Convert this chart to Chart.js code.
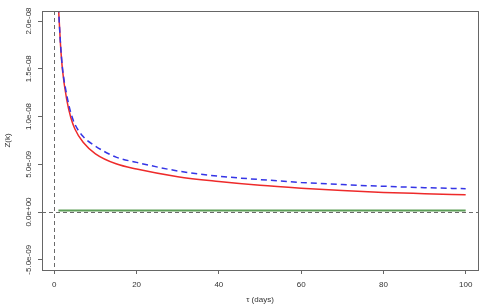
<!DOCTYPE html>
<html>
<head>
<meta charset="utf-8">
<script src="https://cdn.jsdelivr.net/npm/chart.js@4/dist/chart.umd.min.js"></script>
<style>
  html, body { margin: 0; padding: 0; background: #fff; }
  #wrap { width: 487px; height: 308px; }
</style>
</head>
<body>
<div id="wrap"><canvas id="c"></canvas></div>
<script>
// values (Z in units of 1e-9)
const tau = [1, 1.5, 2, 3, 4, 5, 7, 10, 15, 20, 30, 40, 50, 60, 70, 80, 90, 100];
const zRed = [21.5, 17.5, 14.8, 11.8, 9.9, 8.7, 7.3, 6.1, 5.05, 4.5, 3.7, 3.2, 2.8, 2.5, 2.25, 2.05, 1.92, 1.8];
const zBlue = [21.5, 17.6, 15.0, 12.3, 10.4, 9.2, 7.9, 6.9, 5.75, 5.2, 4.3, 3.75, 3.4, 3.1, 2.87, 2.7, 2.55, 2.44];
const zGreen = [0.15, 0.15, 0.15, 0.15, 0.15, 0.15, 0.15, 0.15, 0.15, 0.15, 0.15, 0.15, 0.15, 0.15, 0.15, 0.15, 0.15, 0.15];
const xTicks = [0, 20, 40, 60, 80, 100];
const yTicks = [-5e-9, 0, 5e-9, 1e-8, 1.5e-8, 2e-8];
const yTickLabels = ['-5.0e-09', '0.0e+00', '5.0e-09', '1.0e-08', '1.5e-08', '2.0e-08'];

const pts = (ys) => tau.map((t, i) => ({ x: t, y: ys[i] * 1e-9 }));
const FONT = "'Liberation Sans', Arial, Helvetica, sans-serif";

// box, zero lines and rotated y labels, R style
const rPlot = {
  id: 'rPlot',
  beforeDatasetsDraw(chart) {
    const { ctx, chartArea: a, scales: { x, y } } = chart;
    ctx.save();
    ctx.strokeStyle = '#444';
    ctx.lineWidth = 0.8;
    ctx.setLineDash([4, 3]);
    const x0 = Math.round(x.getPixelForValue(0)) + 0.5;
    const y0 = Math.round(y.getPixelForValue(0)) + 0.5;
    ctx.beginPath();
    ctx.moveTo(x0, a.top); ctx.lineTo(x0, a.bottom);
    ctx.moveTo(a.left, y0); ctx.lineTo(a.right, y0);
    ctx.stroke();
    ctx.restore();
  },
  afterDraw(chart) {
    const { ctx, chartArea: a, scales: { y } } = chart;
    ctx.save();
    ctx.strokeStyle = '#666';
    ctx.lineWidth = 1;
    ctx.strokeRect(a.left + 0.5, a.top + 0.5, a.right - a.left, a.bottom - a.top);
    ctx.fillStyle = '#333';
    ctx.font = '8px ' + FONT;
    ctx.textAlign = 'center';
    ctx.textBaseline = 'middle';
    yTicks.forEach((v, i) => {
      const py = y.getPixelForValue(v);
      ctx.save();
      ctx.translate(a.left - 13, py);
      ctx.rotate(-Math.PI / 2);
      ctx.fillText(yTickLabels[i], 0, 0);
      ctx.restore();
    });
    ctx.restore();
  }
};

new Chart(document.getElementById('c'), {
  type: 'line',
  data: {
    datasets: [
      { data: pts(zGreen), borderColor: '#5c9e57', borderWidth: 2 },
      { data: pts(zBlue), borderColor: '#3535e6', borderWidth: 1.5, borderDash: [6, 4] },
      { data: pts(zRed), borderColor: '#ee2a2a', borderWidth: 1.5 }
    ]
  },
  options: {
    responsive: true,
    maintainAspectRatio: false,
    animation: false,
    layout: { padding: { top: 11, right: 9, left: 0, bottom: 0 } },
    elements: {
      point: { radius: 0 },
      line: { cubicInterpolationMode: 'monotone', fill: false }
    },
    plugins: { legend: { display: false }, tooltip: { enabled: false } },
    scales: {
      x: {
        type: 'linear',
        min: -3,
        max: 103,
        afterBuildTicks: (s) => { s.ticks = xTicks.map(v => ({ value: v })); },
        afterFit: (s) => { s.height = 38; },
        border: { display: false },
        grid: { drawOnChartArea: false, tickLength: 4, color: '#666' },
        ticks: { color: '#333', font: { size: 8, family: FONT }, padding: 6, maxRotation: 0 },
        title: { display: true, text: 'τ (days)', color: '#333', font: { size: 8, family: FONT }, padding: { top: 0, bottom: 3 } }
      },
      y: {
        type: 'linear',
        min: -6.07e-9,
        max: 21.05e-9,
        afterBuildTicks: (s) => { s.ticks = yTicks.map(v => ({ value: v })); },
        afterFit: (s) => { s.width = 42; },
        border: { display: false },
        grid: { drawOnChartArea: false, tickLength: 4, color: '#666' },
        ticks: { display: false },
        title: { display: true, text: 'Z(k)', color: '#333', font: { size: 8, family: FONT }, padding: { top: 3, bottom: 0 } }
      }
    }
  },
  plugins: [rPlot]
});
</script>
</body>
</html>
